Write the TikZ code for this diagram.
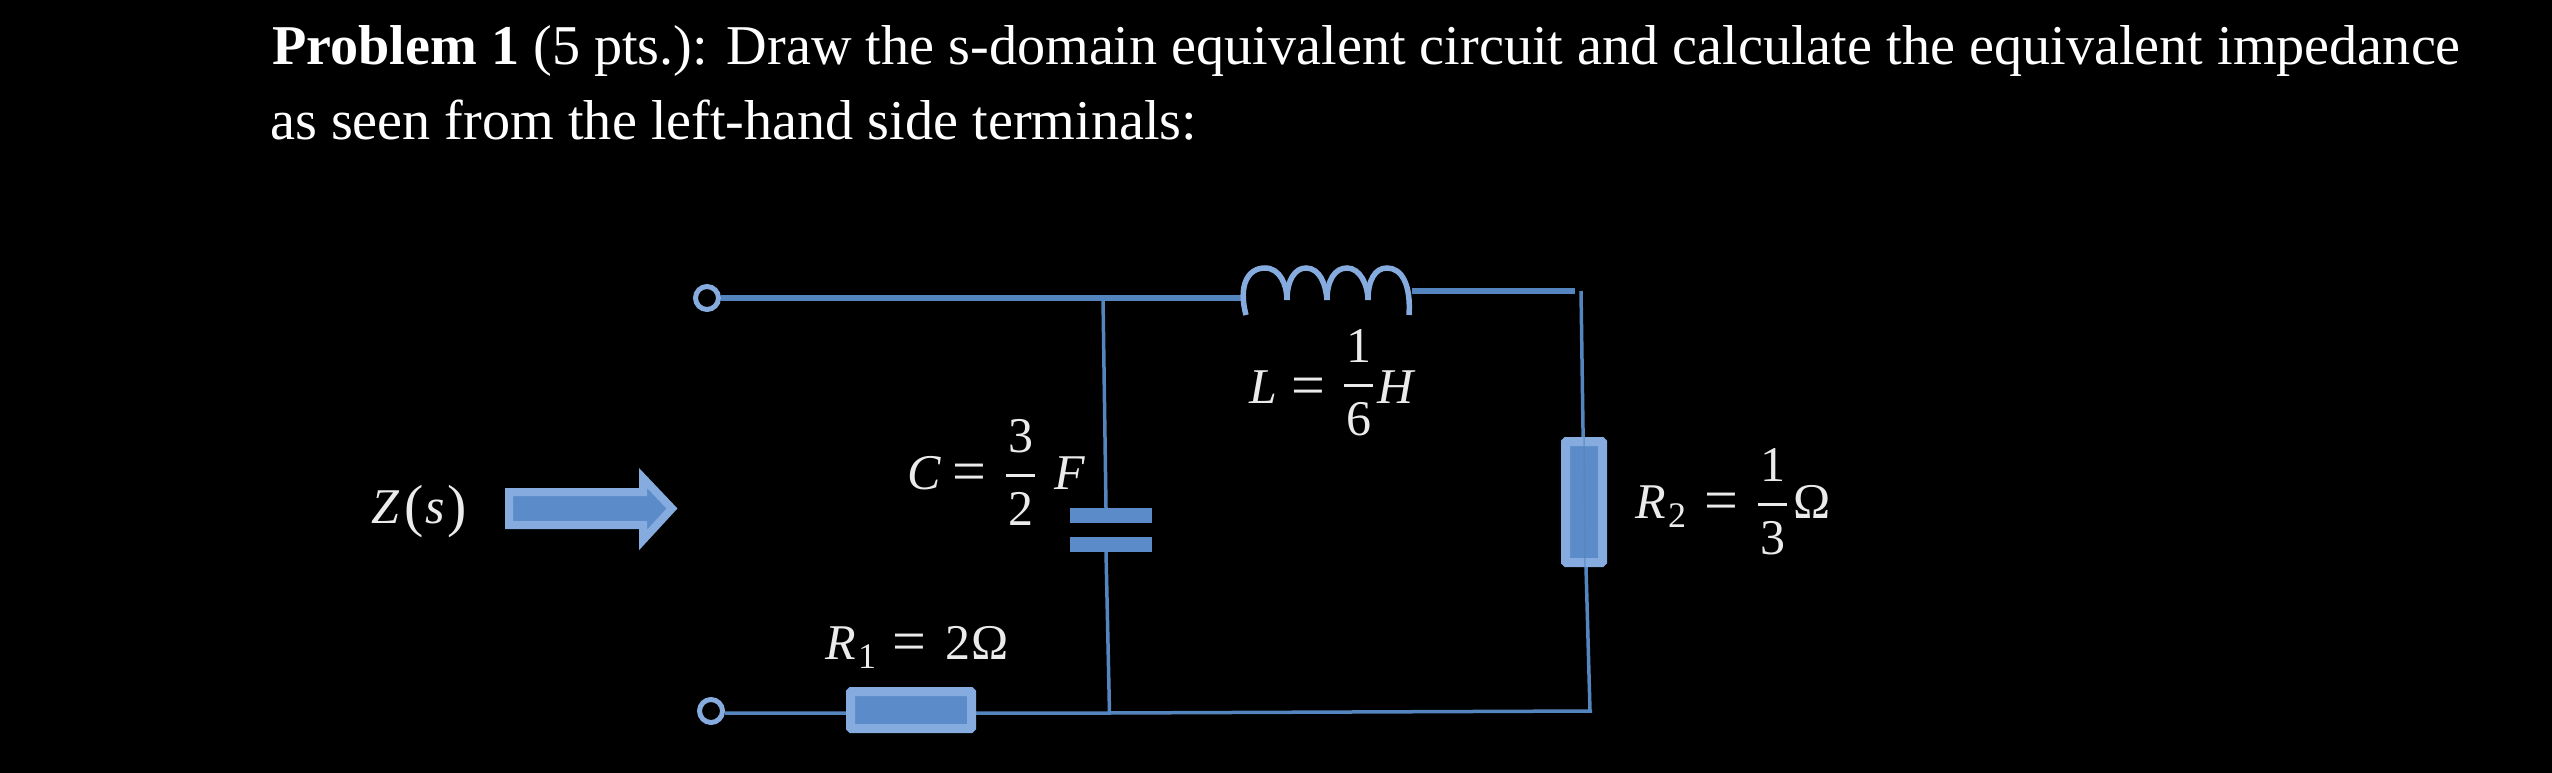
\documentclass[tikz,border=0pt]{standalone}
\usepackage{fontspec}
\setmainfont{Liberation Serif}
\usetikzlibrary{calc}
\definecolor{wire}{HTML}{5585BF}
\definecolor{fillb}{HTML}{5B8BC8}
\definecolor{edgeb}{HTML}{85ABDF}
\newcommand\pl[2]{\rlap{\kern#1pt #2}}
\newcommand\eqs{{\fontsize{60}{60}\selectfont\raisebox{-2pt}{=}}}
\newcommand\fr[4]{\pl{#1}{\raisebox{-#2pt}{\vbox{\hbox to 29pt{\hss#3\hss}\kern21pt\hrule height 3pt\kern15pt\hbox to 29pt{\hss#4\hss}}}}}
\tikzset{
  titletext/.style={text=white,inner sep=0pt,anchor=base west,font=\fontsize{56.2}{60}\selectfont},
  mathlab/.style={text=white!92!black,inner sep=0pt,anchor=base west,font=\fontsize{50}{55}\selectfont},
  thickwire/.style={draw=wire,line width=5.5pt},
  thinwire/.style={draw=wire,line width=3.5pt},
  terminal/.style={circle,draw=edgeb,line width=5pt,fill=black,inner sep=0pt,minimum size=23pt},
  resistor/.style={rectangle,draw=edgeb,line width=9pt,fill=fillb,inner sep=0pt,rounded corners=1pt},
  plate/.style={rectangle,fill=fillb,inner sep=0pt,minimum width=82pt,minimum height=15pt},
  coil/.style={draw=edgeb,line width=5.5pt,line cap=butt},
  x=1pt,y=-1pt
}
\begin{document}
\begin{tikzpicture}
\fill[black] (0,0) rectangle (2552,773);
\useasboundingbox (0,0) rectangle (2552,773);
% heading
\node[titletext] (line1) at (272,65) {\textbf{Problem 1} (5 pts.): Draw the s-domain equivalent circuit and calculate the equivalent impedance};
\node[titletext] (line2) at (270,140) {as seen from the left-hand side terminals:};
% parts
\coordinate (coilL) at (1243,298);
\coordinate (coilR) at (1412,291);
\coordinate (jtop) at (1103,298);
\coordinate (jbot) at (1109.5,713);
\coordinate (cornerTR) at (1581,291);
\coordinate (cornerBR) at (1590,711);
\node[terminal] (t1) at (707,298) {};
\node[terminal] (t2) at (711,711) {};
\node[plate] (cp1) at (1111,515.5) {};
\node[plate] (cp2) at (1111,544.5) {};
% wires
\draw[thickwire] (t1) -- (coilL);
\draw[thickwire] (coilR) -- (1575,291);
\draw[thinwire] (jtop) -- (1106,508);
\draw[thinwire] (1106,552) -- (jbot);
\draw[thinwire] (cornerTR) -- (1585,567);
\draw[thinwire] (1586,567) -- (cornerBR);
\draw[thinwire] (t2.east |- 0,713) -- (jbot) -- (1592,711);
\node[resistor,minimum width=121pt,minimum height=37pt] (R1) at (911,710) {};
\node[resistor,minimum width=37pt,minimum height=121pt] (R2) at (1584,502) {};
\draw[wire,line width=1.5pt,opacity=.6] (1584,437) -- (1585,567);
% inductor
\draw[coil] (1246,315) .. controls (1238,285) and (1248,268) .. (1265,268)
  .. controls (1280,268) and (1287,285) .. (1287,300);
\draw[coil] (1287,300) .. controls (1287,280) and (1295,268) .. (1306,268)
  .. controls (1320,268) and (1326,285) .. (1327,300);
\draw[coil] (1327,300) .. controls (1327,280) and (1335,268) .. (1347,268)
  .. controls (1360,268) and (1368,285) .. (1368,300);
\draw[coil] (1368,300) .. controls (1368,280) and (1375,268) .. (1387,268)
  .. controls (1402,268) and (1411,285) .. (1409,315);
% input arrow
\draw[draw=edgeb,line width=8pt,fill=fillb,line join=miter,miter limit=10]
  (509,492) -- (643,492) -- (643,478) -- (672,508.5) -- (643,540) -- (643,525) -- (509,525) -- cycle;
% labels
\node[mathlab] (lblL) at (1249,403) {\pl{0}{\textit{L}}\pl{42}{\eqs}\fr{95}{32}{1}{6}\pl{128}{\textit{H}}\phantom{x}};
\node[mathlab] (lblC) at (907,489) {\pl{0}{\textit{C}}\pl{45}{\eqs}\fr{99}{36}{3}{2}\pl{147}{\textit{F}}\phantom{x}};
\node[mathlab] (lblR2) at (1635,518) {\pl{0}{\textit{R}}\pl{33}{\raisebox{-9pt}{\fontsize{36}{40}\selectfont 2}}\pl{69}{\eqs}\fr{123}{36}{1}{3}\pl{158}{Ω}\phantom{x}};
\node[mathlab] (lblR1) at (825,659) {\pl{0}{\textit{R}}\pl{33}{\raisebox{-9pt}{\fontsize{36}{40}\selectfont 1}}\pl{67}{\eqs}\pl{120}{2}\pl{146}{Ω}\phantom{x}};
\node[mathlab] (lblZ) at (371,523) {\pl{0}{\textit{Z}}\pl{33}{\raisebox{-2pt}{\fontsize{58}{60}\selectfont (}}\pl{54}{\textit{s}}\pl{76}{\raisebox{-2pt}{\fontsize{58}{60}\selectfont )}}\phantom{x}};
\end{tikzpicture}
\end{document}
